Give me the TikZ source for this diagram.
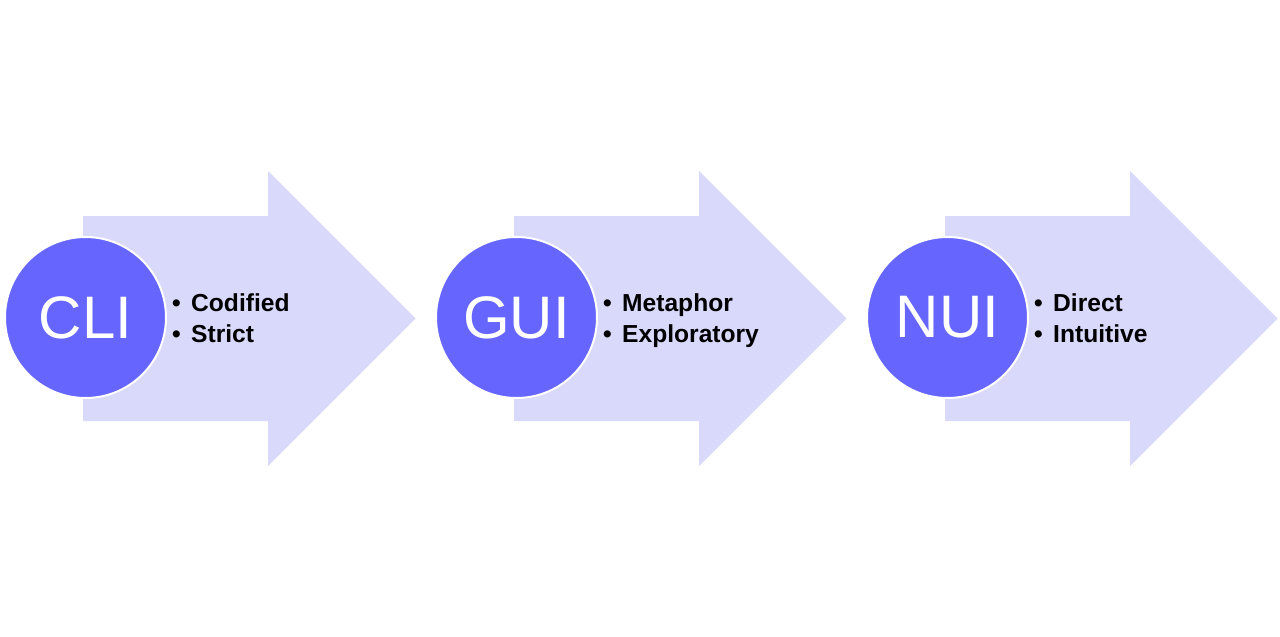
\documentclass[tikz,border=0pt]{standalone}
\usepackage{fontspec}
\setmainfont{Liberation Sans}
\definecolor{arrowfill}{RGB}{217,217,251}
\definecolor{circfill}{RGB}{102,102,255}
\newcommand{\bitem}[1]{\makebox[19pt][l]{•}#1}
\begin{document}
\begin{tikzpicture}[x=1pt,y=1pt,
  bigarrow/.style={fill=arrowfill,draw=none},
  disc/.style={circle,fill=circfill,draw=white,line width=2pt,minimum size=161pt,inner sep=0pt,text=white,font=\fontsize{60}{60}\selectfont},
  items/.style={anchor=base west,inner sep=0pt,align=left,font=\bfseries\fontsize{24.6}{31}\selectfont}]
\useasboundingbox (0,0) rectangle (1280,-637);
\foreach \dx/\nm/\lab/\ia/\ib in {0/a/CLI/Codified/Strict,431/b/GUI/Metaphor/Exploratory,862/c/NUI/Direct/Intuitive}{
  \begin{scope}[xshift=\dx]
    \fill[bigarrow] (83,-216) -- (268,-216) -- (268,-171) -- (415.5,-318.5) -- (268,-466) -- (268,-421) -- (83,-421) -- cycle;
    \node[disc] (\nm) at (85.5,-317.5) {\lab};
    \node[items] (\nm1) at (172,-342.5) {\bitem{\ia}\\\bitem{\ib}};
  \end{scope}
}
\end{tikzpicture}
\end{document}
